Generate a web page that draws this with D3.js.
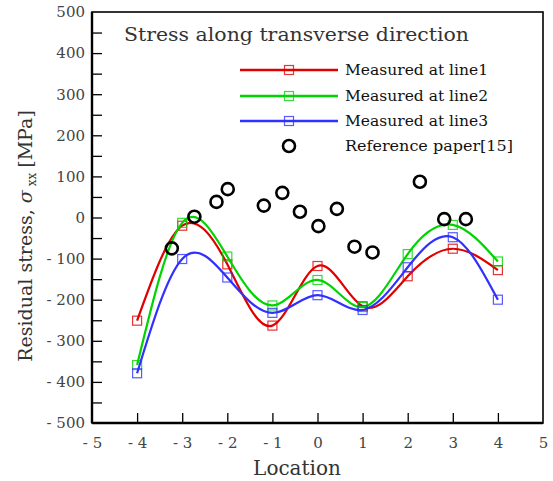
<!DOCTYPE html>
<html><head><meta charset="utf-8">
<script src="https://cdn.jsdelivr.net/npm/d3@7"></script>
<style>body{margin:0;background:#fff}svg{display:block}text{font-family:"DejaVu Serif","Liberation Serif",serif}</style>
</head><body>
<svg id="c" width="553" height="481"></svg>
<script>
const locations = [-4,-3,-2,-1,0,1,2,3,4];
const line1 = [-251,-20,-114,-263,-118,-216,-143,-76,-128];
const line2 = [-359,-13,-95,-214,-152,-218,-89,-18,-107];
const line3 = [-379,-101,-146,-232,-189,-225,-121,-48,-200];
const refX = [-3.23,-2.73,-2.24,-1.99,-1.19,-0.78,-0.39,0.02,0.43,0.82,1.22,2.27,2.81,3.29];
const refY = [-75,2,38,69,29,60,14,-21,21,-71,-85,87,-4,-4];
const seriesNames = ["Measured at line1","Measured at line2","Measured at line3"];
const seriesColors = ["#e00000","#00d400","#3030ff"];
const refName = "Reference paper[15]";
const xTicks = [-5,-4,-3,-2,-1,0,1,2,3,4,5];
const yTicks = [-500,-400,-300,-200,-100,0,100,200,300,400,500];

const svg = d3.select("#c");
const L=92,R=543,T=12,B=423;
const x = d3.scaleLinear().domain([-5,5]).range([L,R]);
const y = d3.scaleLinear().domain([-500,500]).range([B,T]);
const fmt = d => (d<0 ? "- " + Math.abs(d) : String(d));

// ticks (inward)
const gx = svg.append("g").attr("transform",`translate(0,${B})`)
  .call(d3.axisBottom(x).tickValues(xTicks).tickSize(-10).tickPadding(14).tickFormat(fmt));
const gy = svg.append("g").attr("transform",`translate(${L},0)`)
  .call(d3.axisLeft(y).tickValues(d3.range(-500,501,50)).tickSize(-10).tickPadding(7)
    .tickFormat(d=> yTicks.includes(d)? fmt(d):""));
[gx,gy].forEach(g=>{
  g.select(".domain").remove();
  g.selectAll(".tick line").attr("stroke","#000").attr("stroke-width",1.3);
  g.selectAll(".tick text").attr("fill","#444").style("font-size","15px").attr("font-family","DejaVu Serif");
});
gx.selectAll(".tick").filter(d=>d===-5||d===5).select("line").remove();
gy.selectAll(".tick").filter(d=>d===-500||d===500).select("line").remove();

// frame
svg.append("rect").attr("x",L).attr("y",T).attr("width",R-L).attr("height",B-T)
  .attr("fill","none").attr("stroke","#000").attr("stroke-width",1.6);
svg.append("line").attr("x1",L).attr("x2",L).attr("y1",T).attr("y2",B).attr("stroke","#000").attr("stroke-width",2.4);
svg.append("line").attr("x1",L).attr("x2",R).attr("y1",B).attr("y2",B).attr("stroke","#000").attr("stroke-width",2.4);

// series
const allSeries=[line1,line2,line3];
const lineGen = d3.line().x(d=>x(d[0])).y(d=>y(d[1])).curve(d3.curveNatural);
allSeries.forEach((s,i)=>{
  const pts = locations.map((l,j)=>[l,s[j]]);
  svg.append("path").attr("d",lineGen(pts)).attr("fill","none")
    .attr("stroke",seriesColors[i]).attr("stroke-width",2.2);
  svg.selectAll(null).data(pts).enter().append("rect")
    .attr("x",d=>x(d[0])-4.5).attr("y",d=>y(d[1])-4.5).attr("width",9).attr("height",9)
    .attr("fill","none").attr("stroke",seriesColors[i]).attr("stroke-width",1.2).attr("opacity",0.8);
});

// reference circles
svg.selectAll(null).data(refX.map((v,i)=>[v,refY[i]])).enter().append("circle")
  .attr("cx",d=>x(d[0])).attr("cy",d=>y(d[1])).attr("r",6)
  .attr("fill","none").attr("stroke","#000").attr("stroke-width",2.6);

// title
svg.append("text").attr("x",124).attr("y",41).attr("fill","#333").style("font-size","19px")
  .attr("textLength",345).attr("lengthAdjust","spacingAndGlyphs").text("Stress along transverse direction");

// legend
const legY=[70,96,121];
seriesNames.forEach((n,i)=>{
  svg.append("line").attr("x1",240).attr("x2",338).attr("y1",legY[i]).attr("y2",legY[i])
    .attr("stroke",seriesColors[i]).attr("stroke-width",2.4);
  svg.append("rect").attr("x",289-4.5).attr("y",legY[i]-4.5).attr("width",9).attr("height",9)
    .attr("fill","none").attr("stroke",seriesColors[i]).attr("stroke-width",1.2).attr("opacity",0.8);
  svg.append("text").attr("x",345).attr("y",legY[i]+5).style("font-size","15px").attr("fill","#111")
    .attr("textLength",143).attr("lengthAdjust","spacingAndGlyphs").text(n);
});
svg.append("circle").attr("cx",289).attr("cy",146).attr("r",6).attr("fill","none").attr("stroke","#000").attr("stroke-width",2.6);
svg.append("text").attr("x",345).attr("y",151).style("font-size","15px").attr("fill","#111")
  .attr("textLength",168).attr("lengthAdjust","spacingAndGlyphs").text(refName);

// axis titles
svg.append("text").attr("x",297).attr("y",475).attr("text-anchor","middle").style("font-size","20px").attr("fill","#333").text("Location");
const yt = svg.append("text").attr("transform","translate(32,236) rotate(-90)").attr("text-anchor","middle")
  .style("font-size","19px").attr("fill","#333");
yt.append("tspan").text("Residual stress, ");
yt.append("tspan").attr("font-style","italic").text("σ");
yt.append("tspan").style("font-size","12px").attr("dx","4").attr("dy","4").text("xx");
yt.append("tspan").attr("dy","-4").attr("dx","5").text("[MPa]");
</script>
</body></html>
